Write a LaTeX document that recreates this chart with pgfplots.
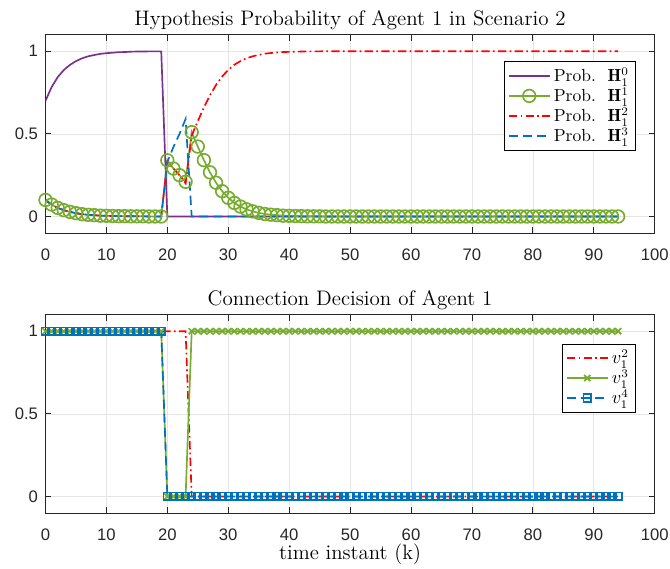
\documentclass[border=0pt]{standalone}
\usepackage{fontspec}
\setsansfont{Liberation Sans}
\usepackage{pgfplots}
\pgfplotsset{compat=1.18}
\usepackage{pgfplotstable}

\definecolor{mpurple}{rgb}{0.494,0.184,0.556}
\definecolor{mgreen}{rgb}{0.466,0.674,0.188}
\definecolor{mblue}{rgb}{0,0.447,0.741}
\definecolor{maxis}{rgb}{0.15,0.15,0.15}

% hypothesis probabilities, k = 0..94
\pgfplotstableread{
k h0 h1 h2 h3
0 0.700 0.100 0.100 0.100
1 0.783 0.072 0.072 0.072
2 0.843 0.052 0.052 0.052
3 0.886 0.038 0.038 0.038
4 0.917 0.028 0.028 0.028
5 0.940 0.020 0.020 0.020
6 0.957 0.014 0.014 0.014
7 0.969 0.010 0.010 0.010
8 0.977 0.008 0.008 0.008
9 0.984 0.005 0.005 0.005
10 0.988 0.004 0.004 0.004
11 0.991 0.003 0.003 0.003
12 0.994 0.002 0.002 0.002
13 0.995 0.002 0.002 0.002
14 0.997 0.001 0.001 0.001
15 0.998 0.001 0.001 0.001
16 0.998 0.001 0.001 0.001
17 0.999 0.000 0.000 0.000
18 0.999 0.000 0.000 0.000
19 0.999 0.000 0.000 0.000
20 0.000 0.340 0.330 0.330
21 0.000 0.290 0.290 0.420
22 0.000 0.250 0.250 0.500
23 0.000 0.210 0.200 0.590
24 0.000 0.510 0.490 0.000
25 0.000 0.423 0.577 0.000
26 0.000 0.341 0.659 0.000
27 0.000 0.267 0.733 0.000
28 0.000 0.204 0.796 0.000
29 0.000 0.153 0.847 0.000
30 0.000 0.113 0.887 0.000
31 0.000 0.082 0.918 0.000
32 0.000 0.060 0.940 0.000
33 0.000 0.043 0.957 0.000
34 0.000 0.031 0.969 0.000
35 0.000 0.022 0.978 0.000
36 0.000 0.015 0.985 0.000
37 0.000 0.011 0.989 0.000
38 0.000 0.008 0.992 0.000
39 0.000 0.005 0.995 0.000
40 0.000 0.004 0.996 0.000
41 0.000 0.003 0.997 0.000
42 0.000 0.002 0.998 0.000
43 0.000 0.001 0.999 0.000
44 0.000 0.001 0.999 0.000
45 0.000 0.001 0.999 0.000
46 0.000 0.000 1.000 0.000
47 0.000 0.000 1.000 0.000
48 0.000 0.000 1.000 0.000
49 0.000 0.000 1.000 0.000
50 0.000 0.000 1.000 0.000
51 0.000 0.000 1.000 0.000
52 0.000 0.000 1.000 0.000
53 0.000 0.000 1.000 0.000
54 0.000 0.000 1.000 0.000
55 0.000 0.000 1.000 0.000
56 0.000 0.000 1.000 0.000
57 0.000 0.000 1.000 0.000
58 0.000 0.000 1.000 0.000
59 0.000 0.000 1.000 0.000
60 0.000 0.000 1.000 0.000
61 0.000 0.000 1.000 0.000
62 0.000 0.000 1.000 0.000
63 0.000 0.000 1.000 0.000
64 0.000 0.000 1.000 0.000
65 0.000 0.000 1.000 0.000
66 0.000 0.000 1.000 0.000
67 0.000 0.000 1.000 0.000
68 0.000 0.000 1.000 0.000
69 0.000 0.000 1.000 0.000
70 0.000 0.000 1.000 0.000
71 0.000 0.000 1.000 0.000
72 0.000 0.000 1.000 0.000
73 0.000 0.000 1.000 0.000
74 0.000 0.000 1.000 0.000
75 0.000 0.000 1.000 0.000
76 0.000 0.000 1.000 0.000
77 0.000 0.000 1.000 0.000
78 0.000 0.000 1.000 0.000
79 0.000 0.000 1.000 0.000
80 0.000 0.000 1.000 0.000
81 0.000 0.000 1.000 0.000
82 0.000 0.000 1.000 0.000
83 0.000 0.000 1.000 0.000
84 0.000 0.000 1.000 0.000
85 0.000 0.000 1.000 0.000
86 0.000 0.000 1.000 0.000
87 0.000 0.000 1.000 0.000
88 0.000 0.000 1.000 0.000
89 0.000 0.000 1.000 0.000
90 0.000 0.000 1.000 0.000
91 0.000 0.000 1.000 0.000
92 0.000 0.000 1.000 0.000
93 0.000 0.000 1.000 0.000
94 0.000 0.000 1.000 0.000
}\topdata

% connection decisions, k = 0..94
\pgfplotstableread{
k v2 v3 v4
0 1 1 1
1 1 1 1
2 1 1 1
3 1 1 1
4 1 1 1
5 1 1 1
6 1 1 1
7 1 1 1
8 1 1 1
9 1 1 1
10 1 1 1
11 1 1 1
12 1 1 1
13 1 1 1
14 1 1 1
15 1 1 1
16 1 1 1
17 1 1 1
18 1 1 1
19 1 1 1
20 1 0 0
21 1 0 0
22 1 0 0
23 1 0 0
24 0 1 0
25 0 1 0
26 0 1 0
27 0 1 0
28 0 1 0
29 0 1 0
30 0 1 0
31 0 1 0
32 0 1 0
33 0 1 0
34 0 1 0
35 0 1 0
36 0 1 0
37 0 1 0
38 0 1 0
39 0 1 0
40 0 1 0
41 0 1 0
42 0 1 0
43 0 1 0
44 0 1 0
45 0 1 0
46 0 1 0
47 0 1 0
48 0 1 0
49 0 1 0
50 0 1 0
51 0 1 0
52 0 1 0
53 0 1 0
54 0 1 0
55 0 1 0
56 0 1 0
57 0 1 0
58 0 1 0
59 0 1 0
60 0 1 0
61 0 1 0
62 0 1 0
63 0 1 0
64 0 1 0
65 0 1 0
66 0 1 0
67 0 1 0
68 0 1 0
69 0 1 0
70 0 1 0
71 0 1 0
72 0 1 0
73 0 1 0
74 0 1 0
75 0 1 0
76 0 1 0
77 0 1 0
78 0 1 0
79 0 1 0
80 0 1 0
81 0 1 0
82 0 1 0
83 0 1 0
84 0 1 0
85 0 1 0
86 0 1 0
87 0 1 0
88 0 1 0
89 0 1 0
90 0 1 0
91 0 1 0
92 0 1 0
93 0 1 0
94 0 1 0
}\decdata

\pgfplotsset{
  mstyle/.style={
    scale only axis,
    width=365.5pt, height=119pt,
    xmin=0, xmax=100, ymin=-0.1, ymax=1.1,
    xtick={0,10,...,100}, ytick={0,0.5,1},
    grid=major,
    grid style={line width=0.4pt, gray!20},
    axis line style={maxis, line width=0.5pt},
    tick style={maxis, line width=0.5pt},
    major tick length=3.5pt,
    tick align=inside,
    ticklabel style={font=\fontsize{10}{12}\sffamily, text=maxis},
    xticklabel style={yshift=-6pt},
    yticklabel style={xshift=-1pt},
    /pgf/number format/assume math mode=true,
    title style={font=\fontsize{12.6}{15}\selectfont, yshift=-6.5pt},
    label style={font=\fontsize{12.5}{14}\selectfont},
    legend style={font=\fontsize{10.5}{12.5}\selectfont,
      fill=white, anchor=north east,
      inner xsep=2pt, inner ysep=1.5pt, row sep=-2pt},
    legend cell align=left,
    legend image code/.code={\draw[mark repeat=2, mark phase=2]
      plot coordinates {(0cm,0cm)(0.43cm,0cm)(0.86cm,0cm)};},
  },
  dashdot/.style={dash pattern=on 5pt off 2pt on 1pt off 2pt},
  mdash/.style={dash pattern=on 5.5pt off 3pt},
}

\begin{document}
\begin{tikzpicture}
\begin{axis}[mstyle,
    at={(27.3pt,-139.8pt)}, anchor=south west,
    title={Hypothesis Probability of Agent 1 in Scenario 2},
    legend style={at={(0.969,0.865)}},
]
\addplot[color=mpurple, draw=mpurple, line width=1pt] table[x=k,y=h0] {\topdata};
\addlegendentry{Prob.\ \ $\mathbf{H}_1^0$}
\addplot[color=mgreen, draw=mgreen, line width=1pt, mark=o, mark size=3.8pt, mark options={solid}] table[x=k,y=h1] {\topdata};
\addlegendentry{Prob.\ \ $\mathbf{H}_1^1$}
\addplot[color=red, draw=red, line width=1pt, dashdot] table[x=k,y=h2] {\topdata};
\addlegendentry{Prob.\ \ $\mathbf{H}_1^2$}
\addplot[color=mblue, draw=mblue, line width=1pt, mdash] table[x=k,y=h3] {\topdata};
\addlegendentry{Prob.\ \ $\mathbf{H}_1^3$}
\end{axis}

\begin{axis}[mstyle,
    at={(27.3pt,-307.8pt)}, anchor=south west,
    title={Connection Decision of Agent 1},
    xlabel={time instant (k)},
    xlabel style={yshift=5pt},
    legend style={at={(0.969,0.854)}},
]
\addplot[color=red, draw=red, line width=1pt, dashdot] table[x=k,y=v2] {\decdata};
\addlegendentry{$v_1^2$}
\addplot[color=mgreen, draw=mgreen, line width=1pt, mark=x, mark size=2.6pt, mark options={solid}] table[x=k,y=v3] {\decdata};
\addlegendentry{$v_1^3$}
\addplot[color=mblue, draw=mblue, line width=1pt, mdash, mark=square, mark size=2.3pt, mark options={solid}] table[x=k,y=v4] {\decdata};
\addlegendentry{$v_1^4$}
\end{axis}

\pgfresetboundingbox
\path (0,0) rectangle (402pt,-340.8pt);
\end{tikzpicture}
\end{document}
